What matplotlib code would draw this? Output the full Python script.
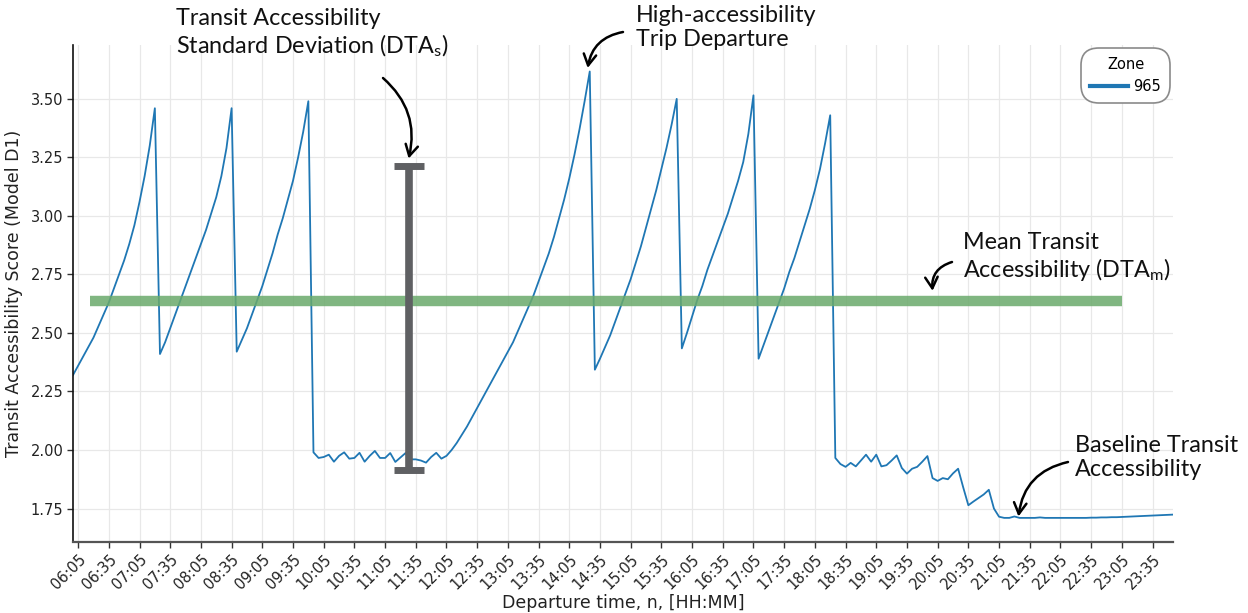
import matplotlib
matplotlib.use('Agg')
import matplotlib.pyplot as plt
import numpy as np

plt.rcParams['font.family'] = 'DejaVu Sans'

'''données lues sur le graphique'''

# heures de départ : toutes les 5 minutes de 06:00 à 23:55 (en minutes depuis minuit)
DEBUT = 6*60
PAS = 5
# score d'accessibilité (Model D1), zone 965 - une ligne = une heure (12 valeurs)
score = [
    2.32, 2.36, 2.40, 2.44, 2.48, 2.53, 2.58, 2.63, 2.69, 2.75, 2.81, 2.88,        # 06h
    2.96, 3.06, 3.17, 3.30, 3.46, 2.41, 2.46, 2.52, 2.58, 2.64, 2.70, 2.76,        # 07h
    2.82, 2.88, 2.94, 3.01, 3.08, 3.17, 3.29, 3.46, 2.42, 2.47, 2.52, 2.58,        # 08h
    2.64, 2.70, 2.77, 2.84, 2.92, 2.99, 3.07, 3.15, 3.25, 3.36, 3.49, 1.99,        # 09h
    1.966, 1.97, 1.98, 1.95, 1.975, 1.99, 1.963, 1.966, 1.988, 1.95, 1.975, 1.996, # 10h
    1.966, 1.966, 1.987, 1.949, 1.968, 1.987, 1.96, 1.96, 1.955, 1.946, 1.97, 1.988, # 11h
    1.963, 1.975, 2.00, 2.03, 2.065, 2.10, 2.14, 2.18, 2.22, 2.26, 2.30, 2.34,     # 12h
    2.38, 2.42, 2.46, 2.51, 2.56, 2.61, 2.66, 2.72, 2.78, 2.84, 2.91, 2.99,        # 13h
    3.07, 3.16, 3.26, 3.37, 3.49, 3.617, 2.343, 2.39, 2.44, 2.49, 2.55, 2.61,      # 14h
    2.67, 2.73, 2.80, 2.87, 2.95, 3.03, 3.11, 3.20, 3.29, 3.39, 3.50, 2.434,       # 15h
    2.50, 2.57, 2.64, 2.70, 2.77, 2.83, 2.89, 2.95, 3.01, 3.08, 3.15, 3.23,        # 16h
    3.35, 3.515, 2.39, 2.45, 2.51, 2.57, 2.63, 2.69, 2.76, 2.82, 2.89, 2.96,       # 17h
    3.03, 3.11, 3.20, 3.31, 3.43, 1.966, 1.94, 1.928, 1.945, 1.93, 1.955, 1.98,    # 18h
    1.95, 1.98, 1.93, 1.935, 1.955, 1.977, 1.923, 1.899, 1.92, 1.928, 1.95, 1.974, # 19h
    1.88, 1.868, 1.88, 1.875, 1.90, 1.92, 1.84, 1.764, 1.78, 1.795, 1.81, 1.83,    # 20h
    1.75, 1.715, 1.71, 1.71, 1.716, 1.71, 1.71, 1.71, 1.71, 1.712, 1.71, 1.71,     # 21h
    1.71, 1.71, 1.71, 1.71, 1.71, 1.71, 1.71, 1.711, 1.711, 1.712, 1.712, 1.713,   # 22h
    1.713, 1.714, 1.715, 1.716, 1.717, 1.718, 1.719, 1.720, 1.721, 1.722, 1.723, 1.724, # 23h
]
ZONE = '965'

# moyenne (DTA_m) et écart type (DTA_s) dessinés sur la figure
moyenne = 2.635
moyenne_debut, moyenne_fin = '06:17', '23:05'
ecart_heure = '11:28'
ecart_bas, ecart_haut = 1.915, 3.215


def en_minutes(hhmm):
    h, m = hhmm.split(':')
    return int(h)*60 + int(m)


minutes = DEBUT + PAS*np.arange(len(score))

'''figure'''

fig = plt.figure(figsize=(12.48, 6.13), dpi=100)
ax = fig.add_axes([73/1248, 71/613, 1100/1248, 497/613])

ax.plot(minutes, score, color='#1f77b4', lw=1.3, label=ZONE)

# moyenne
ax.hlines(moyenne, en_minutes(moyenne_debut), en_minutes(moyenne_fin),
          color='#6aaa6b', alpha=0.85, lw=7.5, zorder=3)
# écart type
centre = (ecart_bas + ecart_haut)/2
ax.errorbar([en_minutes(ecart_heure)], [centre], yerr=[[centre - ecart_bas], [ecart_haut - centre]],
            fmt='none', ecolor='#5f6063', elinewidth=5.5, capsize=11, capthick=5, zorder=4)

# axes
ticks = np.arange(365, 1436, 30)
ax.set_xticks(ticks)
ax.set_xticklabels(['%02d:%02d' % (t//60, t % 60) for t in ticks], rotation=45, ha='right',
                   rotation_mode='anchor', fontsize=10.5, color='#222222')
yticks = [1.75, 2.0, 2.25, 2.5, 2.75, 3.0, 3.25, 3.5]
ax.set_yticks(yticks)
ax.set_yticklabels(['%.2f' % v for v in yticks], fontsize=10.5, color='#222222')
ax.set_xlim(DEBUT, 1435)
ax.set_ylim(1.607, 3.73)
ax.tick_params(axis='both', length=4, width=1, color='#333333', pad=3)
ax.grid(True, color='#e8e8e8', lw=0.9)
ax.set_axisbelow(True)
for s in ['top', 'right']:
    ax.spines[s].set_visible(False)
ax.spines['left'].set_color('#111111')
ax.spines['left'].set_linewidth(1.2)
ax.spines['bottom'].set_color('#555555')
ax.spines['bottom'].set_linewidth(1.6)

ax.set_xlabel('Departure time, n, [HH:MM]', fontsize=12.5, color='#222222', labelpad=1)
ax.set_ylabel('Transit Accessibility Score (Model D1)', fontsize=12.5, color='#222222', labelpad=5)

leg = ax.legend(title='Zone', loc='upper right', fontsize=10.5, title_fontsize=10.5,
                handlelength=2.6, framealpha=1, edgecolor='#8a8a8a', borderaxespad=0.5,
                handletextpad=0.4, borderpad=0.3)
leg.get_frame().set_boxstyle('round,pad=0.3,rounding_size=1.2')
leg.get_frame().set_linewidth(1.2)
for l in leg.get_lines():
    l.set_linewidth(3)

'''annotations'''

police = dict(family=['Lato', 'DejaVu Sans'], fontsize=16.8, color='#111111', va='top', linespacing=1.15)
fleche = dict(arrowstyle='->,head_length=0.8,head_width=0.45', lw=1.8, color='black',
              shrinkA=0, shrinkB=0)

fig.text(176/1248, 605/613, 'Transit Accessibility\nStandard Deviation (DTA$_\\mathregular{s}$)', **police)
ax.annotate('', xy=(en_minutes(ecart_heure), ecart_haut + 0.03), xytext=(383, 535),
            textcoords='figure pixels', arrowprops=dict(connectionstyle='arc3,rad=-0.3', **fleche))

fig.text(636/1248, 608/613, 'High-accessibility\nTrip Departure', **police)
pic = int(np.argmax(score))
ax.annotate('', xy=(minutes[pic] - 2, score[pic] + 0.015), xytext=(623, 581),
            textcoords='figure pixels', arrowprops=dict(connectionstyle='arc3,rad=0.35', **fleche))

fig.text(963/1248, 381/613, 'Mean Transit\nAccessibility (DTA$_\\mathregular{m}$)', **police)
ax.annotate('', xy=(en_minutes('20:00'), moyenne + 0.045), xytext=(952, 351),
            textcoords='figure pixels', arrowprops=dict(connectionstyle='arc3,rad=0.4', **fleche))

fig.text(1075/1248, 178/613, 'Baseline Transit\nAccessibility', **police)
ax.annotate('', xy=(en_minutes('21:24'), 1.716), xytext=(1068, 151),
            textcoords='figure pixels', arrowprops=dict(connectionstyle='arc3,rad=0.35', **fleche))

plt.savefig('out.png', dpi=100)
